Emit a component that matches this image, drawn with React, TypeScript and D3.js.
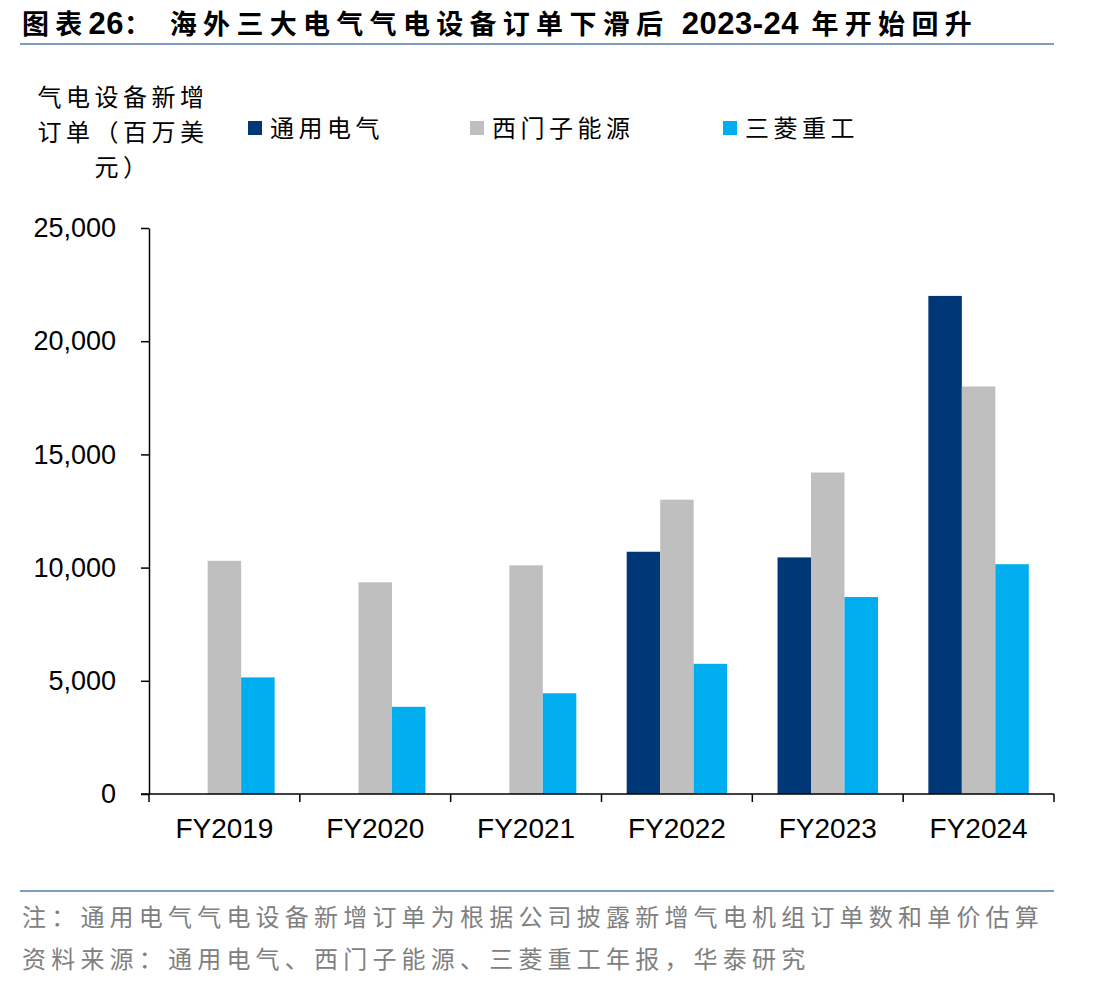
import React, { useRef, useEffect } from 'react';
import * as d3 from 'd3';

const categories = ['FY2019', 'FY2020', 'FY2021', 'FY2022', 'FY2023', 'FY2024'];
const seriesNames = ['通用电气', '西门子能源', '三菱重工'];
const seriesColors = ['#003777', '#BFBFBF', '#00AEEF'];
// null = not disclosed
const geOrders = [null, null, null, 10700, 10450, 22000];
const siemensOrders = [10300, 9350, 10100, 13000, 14200, 18000];
const mhiOrders = [5150, 3850, 4450, 5750, 8700, 10150];
const yTicks = [0, 5000, 10000, 15000, 20000, 25000];

const W = 1112;
const H = 988;
const CJK = '"Noto Sans CJK SC", sans-serif';
const LATIN = '"Liberation Sans", Arial, sans-serif';

// title pieces: [text, isLatin]
const titleParts: [string, boolean][] = [
  ['图表', false],
  ['26', true],
  ['：  海外三大电气气电设备订单下滑后 ', false],
  ['2023-24', true],
  [' 年开始回升', false],
];

const App: React.FC = () => {
  const svgRef = useRef<SVGSVGElement>(null);

  useEffect(() => {
    if (!svgRef.current) return;
    const svg = d3.select(svgRef.current);
    svg.selectAll('*').remove();

    const margin = { top: 228, left: 149, right: 58, bottom: 194 };
    const innerW = W - margin.left - margin.right;
    const innerH = H - margin.top - margin.bottom;

    // title
    const title = svg.append('text')
      .attr('x', 22).attr('y', 34)
      .attr('font-weight', 700).attr('fill', '#000');
    titleParts.forEach(([t, latin]) => {
      title.append('tspan')
        .attr('font-family', latin ? LATIN : CJK)
        .attr('font-size', latin ? 31 : 27)
        .attr('letter-spacing', latin ? 0.5 : 6.3)
        .text(t);
    });
    svg.append('line')
      .attr('x1', 20).attr('x2', 1054).attr('y1', 44).attr('y2', 44)
      .attr('stroke', '#7F9CC6').attr('stroke-width', 2);

    // y axis title
    const yTitle = ['气电设备新增', '订单（百万美', '元）'];
    yTitle.forEach((t, i) => {
      svg.append('text')
        .attr('x', 123).attr('y', 106 + i * 35)
        .attr('text-anchor', 'middle')
        .attr('font-family', CJK).attr('font-size', 24).attr('fill', '#000')
        .attr('letter-spacing', 4.5)
        .text(t);
    });

    // legend
    const legendX = [248, 470, 723];
    seriesNames.forEach((name, i) => {
      svg.append('rect')
        .attr('x', legendX[i]).attr('y', 121).attr('width', 14).attr('height', 14)
        .attr('fill', seriesColors[i]);
      svg.append('text')
        .attr('x', legendX[i] + 22).attr('y', 137)
        .attr('font-family', CJK).attr('font-size', 24).attr('fill', '#000')
        .attr('letter-spacing', 4.5)
        .text(name);
    });

    const g = svg.append('g').attr('transform', `translate(${margin.left},${margin.top})`);

    const x = d3.scaleBand<string>().domain(categories).range([0, innerW]).paddingInner(0).paddingOuter(0);
    const y = d3.scaleLinear().domain([0, 25000]).range([innerH, 0]);
    const groupPad = 0.167;
    const xs = d3.scaleBand<number>()
      .domain([0, 1, 2])
      .range([x.bandwidth() * groupPad, x.bandwidth() * (1 - groupPad)]);

    const series = [geOrders, siemensOrders, mhiOrders];
    categories.forEach((c, ci) => {
      series.forEach((s, si) => {
        const v = s[ci];
        if (v == null) return;
        g.append('rect')
          .attr('x', (x(c) || 0) + (xs(si) || 0))
          .attr('y', y(v))
          .attr('width', xs.bandwidth())
          .attr('height', innerH - y(v))
          .attr('fill', seriesColors[si]);
      });
    });

    // y axis
    const yAxis = g.append('g').call(
      d3.axisLeft(y).tickValues(yTicks).tickSize(8).tickSizeOuter(0)
        .tickFormat(d => d3.format(',')(d as number))
    );
    yAxis.select('.domain').attr('stroke', '#000').attr('stroke-width', 1.5);
    yAxis.selectAll('.tick line').attr('stroke', '#000').attr('stroke-width', 1.5);
    yAxis.selectAll('.tick text')
      .attr('font-family', LATIN).attr('font-size', 27).attr('fill', '#000').attr('x', -33);

    // x axis
    const xAxis = g.append('g').attr('transform', `translate(0,${innerH})`);
    xAxis.append('line')
      .attr('x1', -8).attr('x2', innerW).attr('y1', 0).attr('y2', 0)
      .attr('stroke', '#000').attr('stroke-width', 1.5);
    [...categories.map(c => x(c) || 0), innerW].forEach(px => {
      xAxis.append('line')
        .attr('x1', px).attr('x2', px).attr('y1', 0).attr('y2', 8)
        .attr('stroke', '#000').attr('stroke-width', 1.5);
    });
    categories.forEach(c => {
      xAxis.append('text')
        .attr('x', (x(c) || 0) + x.bandwidth() / 2).attr('y', 44)
        .attr('text-anchor', 'middle')
        .attr('font-family', LATIN).attr('font-size', 28).attr('fill', '#000')
        .text(c);
    });

    // footer
    svg.append('line')
      .attr('x1', 20).attr('x2', 1054).attr('y1', 891).attr('y2', 891)
      .attr('stroke', '#7F9CC6').attr('stroke-width', 2);
    const notes = [
      '注：通用电气气电设备新增订单为根据公司披露新增气电机组订单数和单价估算',
      '资料来源：通用电气、西门子能源、三菱重工年报，华泰研究',
    ];
    notes.forEach((t, i) => {
      svg.append('text')
        .attr('x', 22).attr('y', 926 + i * 42)
        .attr('font-family', CJK).attr('font-size', 24).attr('fill', '#808080')
        .attr('letter-spacing', 5.2)
        .text(t);
    });
  }, []);

  return <svg ref={svgRef} width={W} height={H} style={{ display: 'block', margin: -8 }} />;
};

export default App;
